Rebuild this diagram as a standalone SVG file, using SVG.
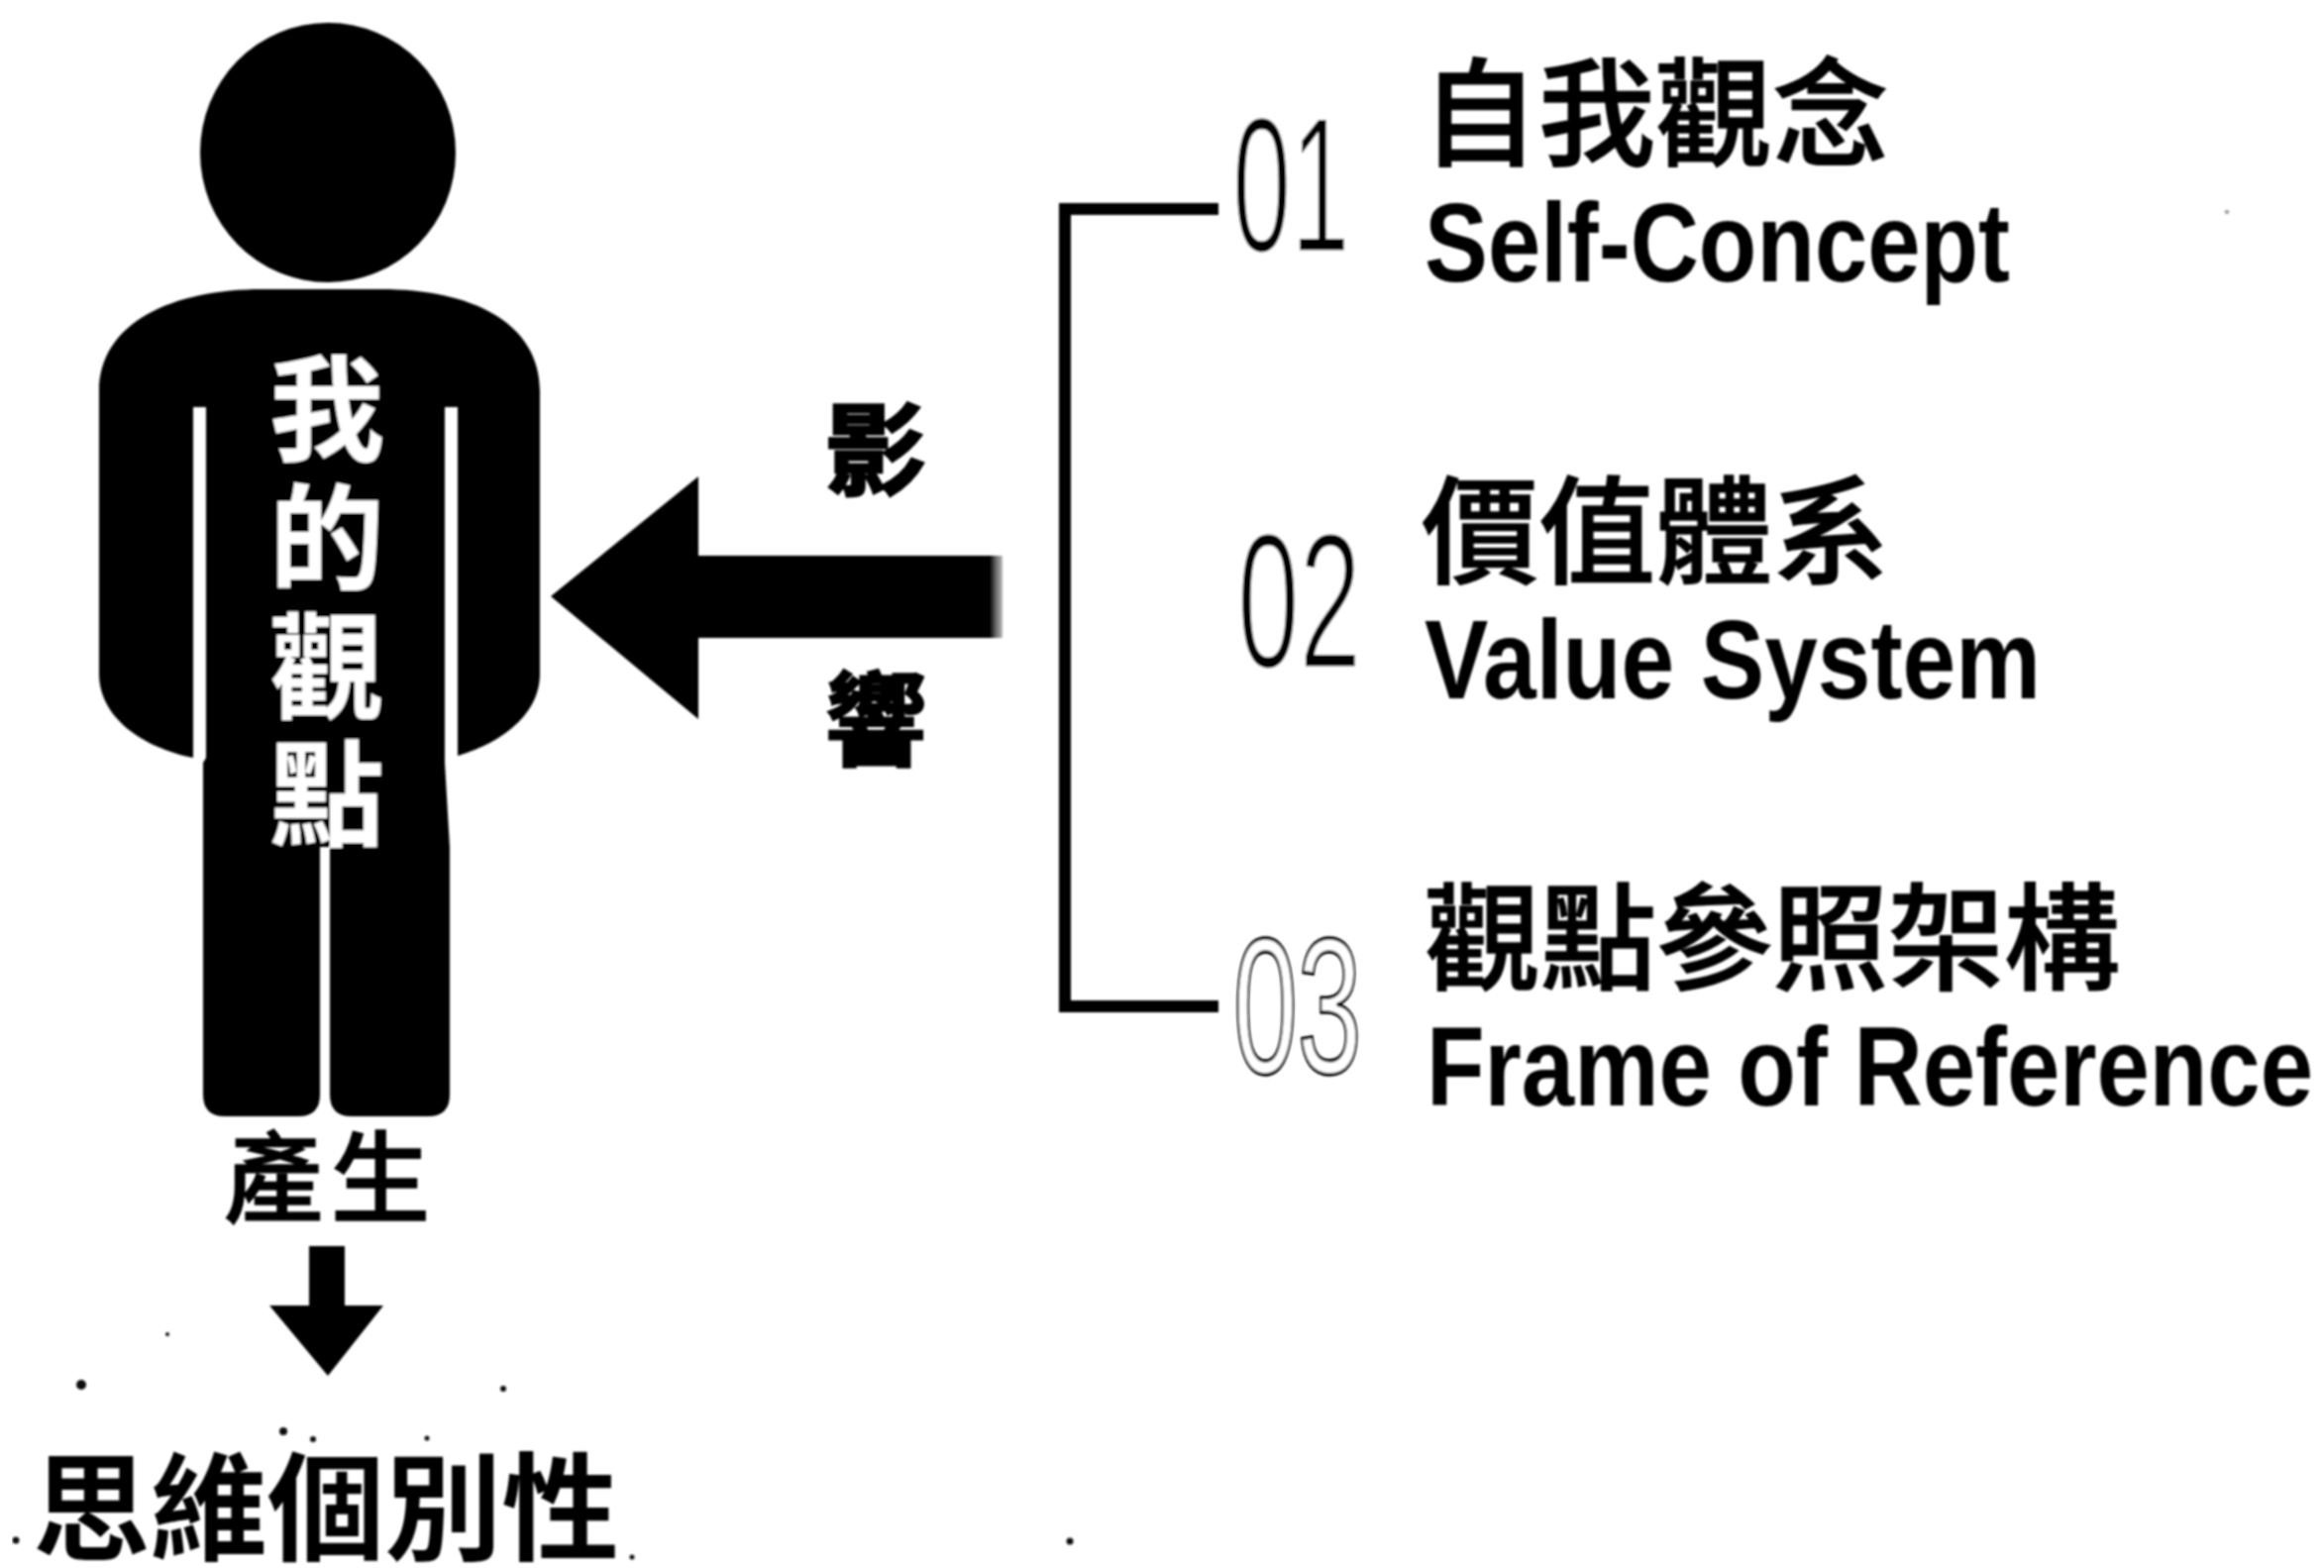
<svg xmlns="http://www.w3.org/2000/svg" width="2346" height="1583" viewBox="0 0 2346 1583">
  <defs>
    <linearGradient id="fade" x1="0" y1="0" x2="1" y2="0">
      <stop offset="0" stop-color="#000"/>
      <stop offset="0.972" stop-color="#000"/>
      <stop offset="0.985" stop-color="#666"/>
      <stop offset="1" stop-color="#bbb"/>
    </linearGradient>
    <filter id="scan" x="0" y="0" width="100%" height="100%"><feGaussianBlur stdDeviation="0.9"/></filter>
  </defs>
  <style>
    .cjk{font-family:"Noto Sans CJK TC","Noto Sans CJK JP",sans-serif;fill:#000}
    .b{font-weight:700}
    .m{font-weight:500;stroke:#000;stroke-width:1.5px}
    .heavy{stroke:#000;stroke-width:3px}
    .white{fill:#fff}
    .en{font-family:"Liberation Sans",Arial,sans-serif;font-weight:700;font-size:113px;fill:#000}
    .num{font-family:"Liberation Sans",Arial,sans-serif;font-size:194px;fill:#000;stroke:#fff;stroke-width:3px}
    .hollow{fill:#fff;stroke:#000;stroke-width:3.5px}
    .speck{fill:#111}
  </style>
  <rect width="2346" height="1583" fill="#fff"/>
  <g filter="url(#scan)">
    <g id="person">
      <ellipse cx="331" cy="154" rx="129" ry="131" fill="#000"/>
      <path fill="#000" d="M100 395C100 325 175 292 265 292H385C475 292 545 325 545 395V680C545 725 500 752 462 763V411H449V770L454 855V1105Q454 1127 432 1127H355Q333 1127 333 1105V855H323V1105Q323 1127 301 1127H227Q205 1127 205 1105V770L208 765V411H195V765C145 755 100 725 100 680Z"/>
      <g font-size="116" text-anchor="middle">
        <text class="cjk b white" x="330" y="456" style="fill:#fff">我</text>
        <text class="cjk b white" x="330" y="586" style="fill:#fff">的</text>
        <text class="cjk b white" x="330" y="716" style="fill:#fff">觀</text>
        <text class="cjk b white" x="330" y="845" style="fill:#fff">點</text>
      </g>
    </g>
    <g id="connectors">
      <path id="influence-arrow" fill="url(#fade)" d="M556 602L705 481V561H1012V644H705V726Z"/>
      <path id="bracket" fill="none" stroke="#000" stroke-width="12" d="M1230 211H1075V1016H1230"/>
      <path id="produce-arrow" fill="#000" d="M312 1258H348V1318H387L331 1389L272 1318H312Z"/>
    </g>
    <g id="influence-label" class="cjk b heavy" font-size="102" text-anchor="middle">
      <text x="884" y="492">影</text>
      <text x="884" y="765">響</text>
    </g>
    <g id="item-1">
      <text class="num" transform="translate(1244 254) scale(0.55 1)">01</text>
      <text class="cjk m" font-size="118" x="1435" y="158">自我觀念</text>
      <text class="en" x="1438" y="284" textLength="591" lengthAdjust="spacingAndGlyphs">Self-Concept</text>
    </g>
    <g id="item-2">
      <text class="num" transform="translate(1249 674) scale(0.58 1)">02</text>
      <text class="cjk m" font-size="118" x="1435" y="580">價值體系</text>
      <text class="en" x="1438" y="705" textLength="622" lengthAdjust="spacingAndGlyphs">Value System</text>
    </g>
    <g id="item-3">
      <text class="num hollow" transform="translate(1245 1083) scale(0.6 1)" style="fill:#fff;stroke:#000;stroke-width:3.5px">03</text>
      <text class="cjk m" font-size="117" x="1438" y="990">觀點參照架構</text>
      <text class="en" x="1440" y="1116" textLength="895" lengthAdjust="spacingAndGlyphs">Frame of Reference</text>
    </g>
    <g id="produce-label" class="cjk m" font-size="100">
      <text x="226" y="1226">產</text>
      <text x="334" y="1226">生</text>
    </g>
    <g id="result">
      <text class="cjk b" font-size="118" x="33" y="1566" textLength="592" lengthAdjust="spacingAndGlyphs">思維個別性</text>
    </g>
    <g id="specks" class="speck">
      <circle cx="82" cy="1398" r="5"/>
      <circle cx="286" cy="1445" r="4"/>
      <circle cx="316" cy="1453" r="3"/>
      <circle cx="431" cy="1452" r="2.5"/>
      <circle cx="508" cy="1402" r="3"/>
      <circle cx="169" cy="1347" r="2"/>
      <circle cx="16" cy="1555" r="3.5"/>
      <circle cx="638" cy="1572" r="2.5"/>
      <circle cx="1080" cy="1556" r="3.5"/>
      <circle cx="2248" cy="214" r="2" opacity="0.5"/>
    </g>
  </g>
</svg>
